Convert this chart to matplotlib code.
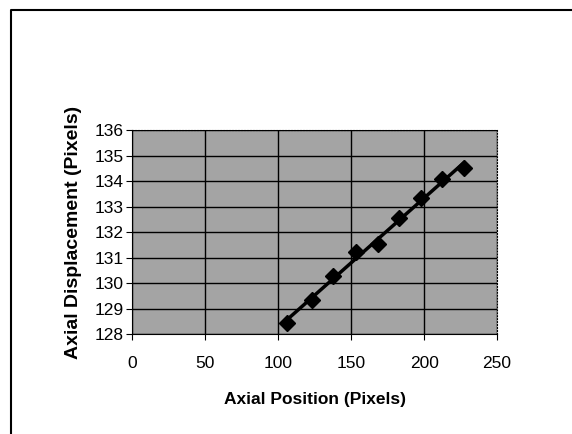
import numpy as np
import matplotlib.pyplot as plt
from matplotlib.lines import Line2D

positions = [105.8, 122.9, 137.9, 153.5, 168.5, 182.8, 197.8, 212.4, 227.4]
displacements = [128.43, 129.34, 130.28, 131.21, 131.54, 132.54, 133.35, 134.07, 134.50]
xticks = [0, 50, 100, 150, 200, 250]
yticks = [128, 129, 130, 131, 132, 133, 134, 135, 136]

plt.rcParams['font.family'] = ['Liberation Sans', 'DejaVu Sans']

fig = plt.figure(figsize=(5.72, 4.34), dpi=100)
ax = fig.add_axes([0.231, 0.230, 0.638, 0.470])

# border along top and left edge (the rest is cut off in the scan)
fig.add_artist(Line2D([0.019, 0.019, 1.0], [0.0, 0.977, 0.977], transform=fig.transFigure,
                      color='black', linewidth=1.5))

ax.set_facecolor('#a4a4a4')
ax.plot(positions, displacements, 'D', color='black', markersize=8)

# linear trendline
slope, intercept = np.polyfit(positions, displacements, 1)
tx = np.array([positions[0], positions[-1]])
ax.plot(tx, slope * tx + intercept, color='black', linewidth=2.5)

ax.set_xlim(0, 250)
ax.set_ylim(128, 136)
ax.set_xticks(xticks)
ax.set_yticks(yticks)
ax.grid(True, color='black', linewidth=1)
ax.set_axisbelow(True)
for s in ax.spines.values():
    s.set_color('black')
    s.set_linestyle(':')
ax.spines['left'].set_linestyle('-')
ax.spines['bottom'].set_linestyle('-')
ax.tick_params(direction='out', length=4, labelsize=12.5, pad=2)
ax.tick_params(axis='x', pad=12)
ax.set_xlabel('Axial Position (Pixels)', fontsize=12.5, fontweight='bold', labelpad=15)
ax.set_ylabel('Axial Displacement (Pixels)', fontsize=14, fontweight='bold', labelpad=9)

fig.savefig('out.png', dpi=100)
